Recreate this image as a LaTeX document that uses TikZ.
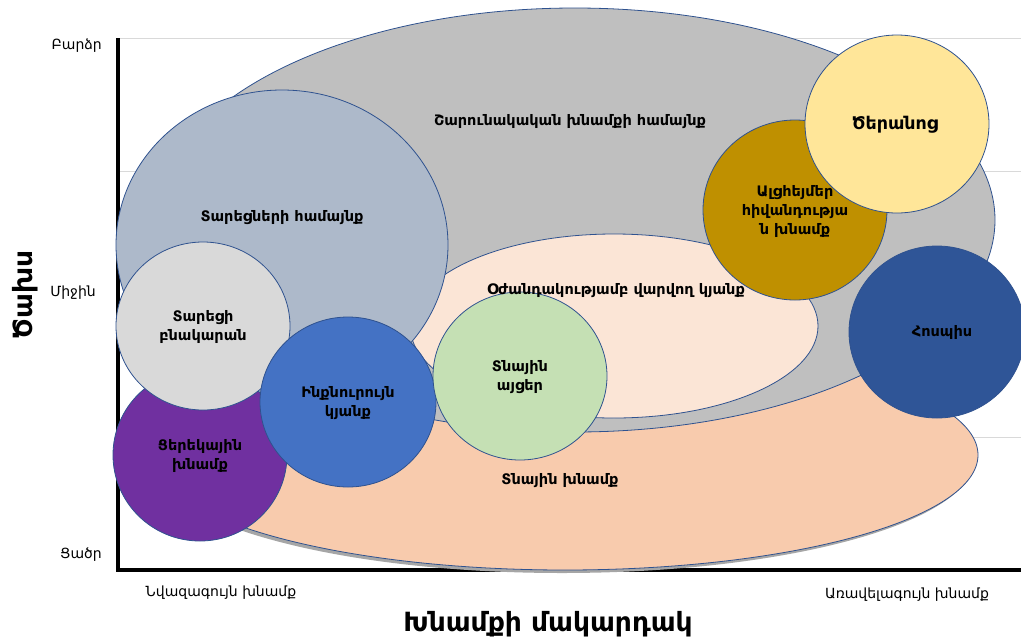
\documentclass[tikz,border=0pt]{standalone}
\usepackage{fontspec}
\setmainfont{DejaVu Sans}
\usetikzlibrary{shapes.geometric}
\definecolor{edgeblue}{RGB}{47,82,143}
\definecolor{gridgray}{RGB}{217,217,217}
\definecolor{cgray}{RGB}{191,191,191}
\definecolor{cpeach}{RGB}{248,203,173}
\definecolor{clpeach}{RGB}{251,229,214}
\definecolor{cbluegray}{RGB}{173,185,202}
\definecolor{clgray}{RGB}{217,217,217}
\definecolor{cpurple}{RGB}{112,48,160}
\definecolor{cblue}{RGB}{68,114,196}
\definecolor{cgreen}{RGB}{197,224,180}
\definecolor{cgold}{RGB}{191,144,0}
\definecolor{cyellow}{RGB}{255,230,153}
\definecolor{cdblue}{RGB}{47,85,151}
\tikzset{
  blob/.style={ellipse, draw=edgeblue, line width=0.8pt, inner sep=0pt, outer sep=0pt},
  lbl/.style={font=\bfseries\fontsize{14.5}{19}\selectfont, align=center, text=black, inner sep=0pt},
  tick/.style={font=\fontsize{14}{16}\selectfont, text=black, inner sep=0pt},
  gridline/.style={draw=gridgray, line width=1pt},
  axisline/.style={draw=black, line width=4pt}
}
\begin{document}
\begin{tikzpicture}[x=1pt,y=-1pt]
\useasboundingbox (0,0) rectangle (1021,638);
% grid
\coordinate (g1a) at (118,38);  \coordinate (g1b) at (1021,38);
\coordinate (g2a) at (118,171); \coordinate (g2b) at (1021,171);
\coordinate (g3a) at (118,304); \coordinate (g3b) at (1021,304);
\coordinate (g4a) at (118,437); \coordinate (g4b) at (1021,437);
\draw[gridline] (g1a) -- (g1b);
\draw[gridline] (g2a) -- (g2b);
\draw[gridline] (g3a) -- (g3b);
\draw[gridline] (g4a) -- (g4b);
% axes
\coordinate (ytop) at (118,38);
\coordinate (orig) at (118,570);
\coordinate (xend) at (1021,570);
\draw[axisline] (ytop) -- (orig) -- (xend);
% shapes
\node[blob, draw=none, fill=gray!70, minimum width=826pt, minimum height=230pt] (homeshadow) at (562,458) {};
\node[blob, fill=cpeach, minimum width=826pt, minimum height=230pt] (home) at (565,455) {};
\node[blob, fill=cgray, minimum width=840pt, minimum height=424pt] (ccrc) at (575,220) {};
\node[blob, fill=clpeach, minimum width=408pt, minimum height=184pt] (assist) at (614,326) {};
\node[blob, fill=cbluegray, minimum width=332pt, minimum height=310pt] (senior) at (282,245) {};
\node[blob, fill=cpurple, minimum width=174pt, minimum height=172pt] (day) at (200,455) {};
\node[blob, fill=clgray, minimum width=174pt, minimum height=168pt] (apt) at (203,326) {};
\node[blob, fill=cblue, minimum width=176pt, minimum height=170pt] (indep) at (348,402) {};
\node[blob, fill=cgreen, minimum width=174pt, minimum height=168pt] (visit) at (520,376) {};
\node[blob, fill=cgold, minimum width=184pt, minimum height=180pt] (alz) at (795,210) {};
\node[blob, fill=cyellow, minimum width=184pt, minimum height=178pt] (nursing) at (897,124) {};
\node[blob, fill=cdblue, minimum width=176pt, minimum height=172pt] (hospice) at (937,332) {};
% labels
\node[lbl] (tccrc) at (570,122) {Շարունակական խնամքի համայնք};
\node[lbl] (tsenior) at (282,218) {Տարեցների համայնք};
\node[lbl] (tapt) at (203,327) {Տարեցի\\բնակարան};
\node[lbl] (tassist) at (616,291) {Օժանդակությամբ վարվող կյանք};
\node[lbl] (tvisit) at (520,377) {Տնային\\այցեր};
\node[lbl] (tindep) at (348,403) {Ինքնուրույն\\կյանք};
\node[lbl] (tday) at (200,456) {Ցերեկային\\խնամք};
\node[lbl] (thome) at (560,481) {Տնային խնամք};
\node[lbl] (talz) at (795,211) {Ալցհեյմեր\\հիվանդությա\\ն խնամք};
\node[lbl, font=\bfseries\fontsize{17.5}{20}\selectfont] (tnursing) at (895,125) {Ծերանոց};
\node[lbl] (thospice) at (942,332) {Հոսպիս};
% axis labels
\node[tick, anchor=east] (high) at (102,46) {Բարձր};
\node[tick, anchor=east] (mid) at (96,293) {Միջին};
\node[tick, anchor=east] (low) at (102,555) {Ցածր};
\node[tick] (minc) at (221,593) {Նվազագույն խնամք};
\node[tick] (maxc) at (907,595) {Առավելագույն խնամք};
\node[font=\bfseries\fontsize{26.5}{30}\selectfont, inner sep=0pt] (xtitle) at (548,624) {Խնամքի մակարդակ};
\node[font=\bfseries\fontsize{26.5}{30}\selectfont, rotate=90, inner sep=0pt] (ytitle) at (25,295) {Ծախս};
\end{tikzpicture}
\end{document}
